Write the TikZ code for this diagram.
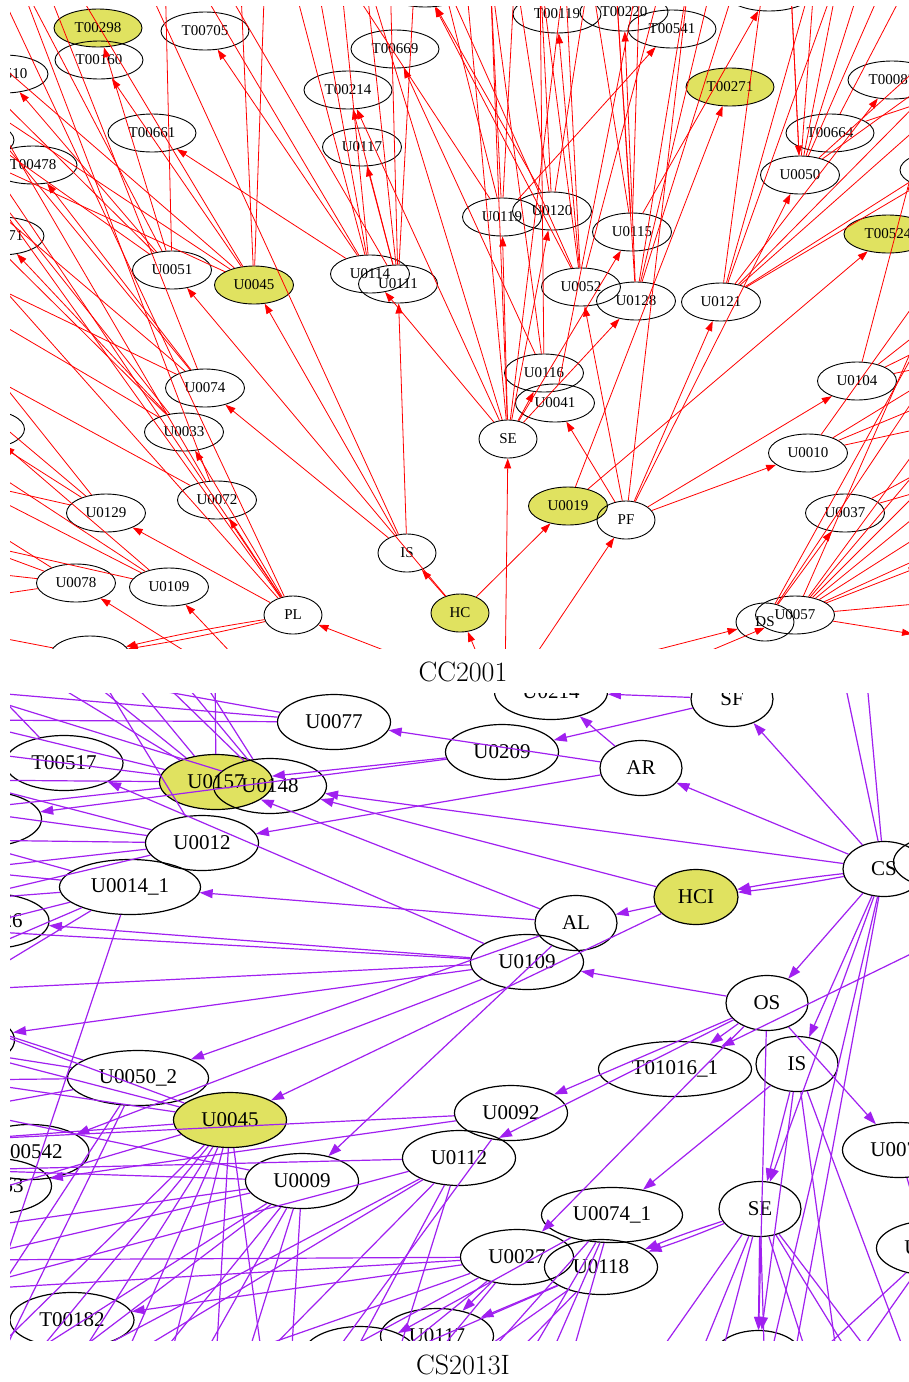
\documentclass[tikz,border=0pt]{standalone}
\usepackage{fontspec}
\newfontfamily\tms{Liberation Serif}
\usetikzlibrary{shapes.geometric,arrows.meta}
\definecolor{hly}{RGB}{224,226,96}
\definecolor{pur}{RGB}{160,32,240}
\begin{document}
\begin{tikzpicture}[x=1pt,y=-1pt,
  tn/.style={ellipse,draw=black,line width=0.9pt,inner sep=0pt,minimum height=38pt,font=\tms\fontsize{15}{16}\selectfont},
  tu/.style={tn,minimum width=79pt},
  tt/.style={tn,minimum width=88pt},
  ts/.style={tn,minimum width=58pt},
  hl/.style={fill=hly},
  re/.style={draw=red,line width=0.8pt,-{Triangle[length=10pt,width=7pt]}},
  bn/.style={ellipse,draw=black,line width=1.2pt,inner sep=0pt,minimum height=55pt,font=\tms\fontsize{21}{22}\selectfont},
  bu/.style={bn,minimum width=113pt},
  bt/.style={bn,minimum width=118pt},
  bw/.style={bn,minimum width=141pt},
  bs/.style={bn,minimum width=82pt},
  pe/.style={draw=pur,line width=1.2pt,-{Triangle[length=13pt,width=9pt]}},
  captxt/.style={font=\fontsize{28}{30}\selectfont}]
\useasboundingbox[fill=white] (0,0) rectangle (909,1382);
% ================= CC2001 =================
\begin{scope}
\clip (10,6) rectangle (909,648);
\node[tt,hl] (aT298) at (98,28) {T00298};
\node[tt] (aT160) at (99,60) {T00160};
\node[tt] (aT510) at (4,74) {T00510};
\node[tt] (aT705) at (205,31) {T00705};
\node[tt] (aT669) at (395,49) {T00669};
\node[tt] (aT214) at (348,90) {T00214};
\node[tt] (aT661) at (152,133) {T00661};
\node[tu] (aU117) at (362,147) {U0117};
\node[tt] (aT478) at (33,165) {T00478};
\node[tt] (aX1) at (-30,140) {};
\node[tt] (aT171) at (0,236) {T00171};
\node[tu] (aU051) at (172,270) {U0051};
\node[tu,hl] (aU045) at (254,285) {U0045};
\node[tu] (aU114) at (370,274) {U0114};
\node[tu] (aU111) at (398,284) {U0111};
\node[tt] (aTop2) at (425,-12) {};
\node[tt] (aT119) at (557,14) {T00119};
\node[tt] (aT220) at (624,12) {T00220};
\node[tt] (aT541) at (672,29) {T00541};
\node[tt] (aTop3) at (769,-8) {};
\node[tt,hl] (aT271) at (730,87) {T00271};
\node[tt] (aT087) at (892,80) {T00087};
\node[tt] (aT664) at (830,133) {T00664};
\node[tu] (aU050) at (800,175) {U0050};
\node[tt] (aR1) at (944,170) {};
\node[tt,hl] (aT524) at (888,234) {T00524};
\node[tu] (aU119) at (502,217) {U0119};
\node[tu] (aU120) at (552,211) {U0120};
\node[tu] (aU115) at (632,232) {U0115};
\node[tu] (aU052) at (581,287) {U0052};
\node[tu] (aU128) at (636,301) {U0128};
\node[tu] (aU121) at (721,302) {U0121};
\node[tu] (aU074) at (205,388) {U0074};
\node[tu] (aU033) at (184,432) {U0033};
\node[tu] (aL2) at (-15,429) {};
\node[tu] (aU072) at (217,500) {U0072};
\node[tu] (aU129) at (106,513) {U0129};
\node[tu] (aU078) at (76,583) {U0078};
\node[tu] (aU109) at (169,587) {U0109};
\node[ts] (aPL) at (293,615) {PL};
\node[ts] (aIS) at (407,553) {IS};
\node[tu] (aB1) at (90,655) {};
\node[tu] (aU116) at (544,373) {U0116};
\node[tu] (aU041) at (555,403) {U0041};
\node[ts] (aSE) at (508,439) {SE};
\node[tu,hl] (aU019) at (568,506) {U0019};
\node[ts] (aPF) at (626,520) {PF};
\node[ts,hl] (aHC) at (460,613) {HC};
\node[tu] (aU104) at (857,381) {U0104};
\node[tu] (aU010) at (808,453) {U0010};
\node[tu] (aU037) at (845,513) {U0037};
\node[ts] (aDS) at (765,622) {DS};
\node[tu] (aU057) at (795,615) {U0057};
\node[tu] (aR2) at (950,362) {};
\node[tu] (aR3) at (950,555) {};
\node[tu] (aR4) at (950,640) {};
% off-panel coordinates
\foreach \i in {0,...,44} {\coordinate (u\i) at ({25*\i-60},-30);}
\foreach \i in {0,...,22} {\coordinate (l\i) at (-40,{30*\i});}
\foreach \i in {0,...,22} {\coordinate (r\i) at (960,{30*\i});}
\coordinate (dA) at (487,690);
\coordinate (dB) at (266,690);
\coordinate (dC) at (247,690);
\coordinate (dD) at (492,690);
\coordinate (dE) at (505,690);
\coordinate (dF) at (512,690);
\coordinate (dG) at (500,690);
\coordinate (dH) at (617,690);
% node to node edges
\foreach \a/\b in {aHC/aIS,aHC/aU019,aHC/aU051,
  aIS/aU074,aIS/aU045,aIS/aU111,
  aSE/aU114,aSE/aT214,aSE/aU116,aSE/aU119,aSE/aU120,aSE/aU115,aSE/aU128,
  aPF/aU041,aPF/aU052,aPF/aU121,aPF/aU104,aPF/aU010,aPF/aU050,
  aU019/aT271,aU019/aT524,
  aPL/aU072,aPL/aU033,aPL/aU129,
  aU051/aT298,aU051/aT510,aU045/aT160,
  aU114/aT705,aU114/aT661,aU111/aU117,aU111/aT214,
  aU116/aT669,aU074/aT478,aU033/aT171,aU109/aL2,
  aU052/aT119,aU052/aTop2,aU128/aT220,aU119/aT541,aU120/aTop2,aU115/aTop3,
  aU121/aT087,aU121/aR1,aDS/aU037,aU057/aR3,aU057/aR4,
  dA/aPL,dB/aU109,dC/aU078,dD/aHC,dE/aSE,dF/aPF,dG/aDS,dH/aU057,u34/aU050}
  {\draw[re] (\a) -- (\b);}
\draw[re] (aPL) to[bend left=2] (aB1);
\draw[re] (aPL) to[bend right=2] (aB1);
% edges leaving the panel
\foreach \a/\b in {aU051/u3,aU051/u9,aU051/l4,aU051/l2,
  aU045/u12,aU045/u13,aU045/u5,aU045/l3,aU045/l5,aU045/l1,
  aU114/u14,aU114/u15,aU114/u16,aU114/u10,aU111/u17,aU111/u18,aU111/u19,aU111/u11,
  aSE/u21,aSE/u22,aSE/u25,aSE/u17,aU119/u20,aU119/u22,aU119/u23,aU119/u16,
  aU120/u23,aU120/u24,aU120/u26,aU115/u26,aU115/u27,aU115/u28,
  aU052/u24,aU052/u25,aU052/u29,aU052/u20,aU128/u27,aU128/u30,aU128/u31,aU128/u32,
  aU121/u33,aU121/u35,aU121/u36,aU121/r2,aU121/r3,aU121/r5,
  aU050/u34,aU050/u35,aU050/u36,aU050/u37,aU050/u38,aU050/r1,aU050/r2,
  aT664/r3,aT664/u39,aU116/u22,aU116/u24,aU041/u28,aPF/u30,
  aPL/l4,aPL/l5,aPL/u2,aPL/l8,aU074/l9,aU074/l6,aU074/u4,aU074/l3,
  aU033/l10,aU033/l7,aU033/l5,aU072/l12,aU072/l2,aU072/u3,aIS/u8,
  aU129/l14,aU129/l16,aU129/l13,aU129/l11,
  aU078/l17,aU078/l18,aU078/l19,aU078/l20,
  aU109/l15,aU109/l16,aU109/l18,aB1/l21,aB1/l22,
  aU104/r10,aU104/r11,aU104/r12,aU104/u41,
  aU010/r12,aU010/r13,aU010/r14,aU010/r8,aU037/r15,aU037/r16,
  aU057/r13,aU057/r14,aU057/r15,aU057/r16,aU057/r17,aU057/r18,aU057/r20,aU057/r8,
  aDS/r11,aDS/r9}
  {\draw[re] (\a) -- (\b);}
\end{scope}
\node[captxt] (capA) at (463,672) {CC2001};
% ================= CS2013I =================
\begin{scope}
\clip (10,693) rectangle (909,1340);
\node[bu] (bU214) at (551,692) {U0214};
\node[bs] (bSF) at (732,699) {SF};
\node[bu] (bU077) at (334,722) {U0077};
\node[bt] (bT517) at (64,763) {T00517};
\node[bu,hl] (bU157) at (216,782) {U0157};
\node[bu] (bU148) at (270,786) {U0148};
\node[bu] (bL1) at (-15,819) {};
\node[bu] (bU012) at (202,843) {U0012};
\node[bw] (bU014) at (130,887) {U0014\_1};
\node[bt] (bT126) at (-10,921) {T00126};
\node[bu] (bU209) at (502,752) {U0209};
\node[bs] (bAR) at (641,768) {AR};
\node[bs] (bCS) at (884,869) {CS};
\node[bu] (bR1) at (950,862) {};
\node[bs,hl,minimum width=84pt] (bHCI) at (696,897) {HCI};
\node[bs] (bAL) at (576,923) {AL};
\node[bu] (bU109) at (527,962) {U0109};
\node[bs] (bOS) at (767,1003) {OS};
\node[bu] (bL2) at (-42,1040) {};
\node[bw] (bU050) at (138,1078) {U0050\_2};
\node[bu,hl] (bU045) at (230,1120) {U0045};
\node[bt] (bT542) at (30,1152) {T00542};
\node[bu] (bX3) at (-5,1186) {U0053};
\node[bu] (bU009) at (302,1181) {U0009};
\node[bu] (bU112) at (459,1158) {U0112};
\node[bu] (bU092) at (511,1113) {U0092};
\node[bn,minimum width=153pt] (bT1016) at (675,1069) {T01016\_1};
\node[bs] (bIS) at (797,1064) {IS};
\node[bu] (bU007) at (899,1150) {U0071};
\node[bw] (bU074) at (612,1215) {U0074\_1};
\node[bs] (bSE) at (760,1209) {SE};
\node[bu] (bU027) at (517,1257) {U0027};
\node[bu] (bU118) at (601,1267) {U0118};
\node[bu] (bR2) at (933,1248) {U0101};
\node[bt,minimum width=124pt] (bT182) at (72,1320) {T00182};
\node[bu] (bU117) at (437,1336) {U0117};
\node[bu] (bB1) at (360,1354) {};
\node[bs,minimum width=90pt] (bB2) at (758,1358) {};
\foreach \i in {0,...,44} {\coordinate (v\i) at ({25*\i-60},660);}
\foreach \i in {0,...,22} {\coordinate (m\i) at (-40,{690+30*\i});}
\foreach \i in {0,...,22} {\coordinate (s\i) at (960,{690+30*\i});}
\foreach \i in {0,...,44} {\coordinate (w\i) at ({25*\i-60},1380);}
\foreach \a/\b in {bCS/bSF,bCS/bAR,bCS/bOS,bCS/bIS,bCS/bSE,bCS/bU148,
  bHCI/bAL,bHCI/bU148,bHCI/bU045,
  bAL/bU014,bAL/bU050,bAL/bU009,bAL/bU157,
  bAR/bU012,bAR/bU214,bAR/bU077,bSF/bU214,bSF/bU209,
  bU209/bU157,bU209/bL1,
  bU109/bT126,bU109/bT517,bU109/bL2,bU109/bT542,
  bOS/bU109,bOS/bT1016,bOS/bU092,bOS/bU112,bOS/bU007,bOS/bU027,bOS/bB2,
  bIS/bSE,bIS/bU074,bIS/bB2,bSE/bB2,
  bU092/bX3,bU027/bT182,bU027/bU117,bU118/bU117,bU074/bB1,s8/bT1016}
  {\draw[pe] (\a) -- (\b);}
\draw[pe] (bCS) to[bend left=2] (bHCI);
\draw[pe] (bCS) to[bend right=2] (bHCI);
\draw[pe] (bSE) to[bend left=2] (bU118);
\draw[pe] (bSE) to[bend right=2] (bU118);
\foreach \a/\b in {bCS/v36,bCS/v37,bCS/w33,bCS/w34,
  bU157/m1,bU157/m2,bU157/m3,bU157/m4,bU157/v3,bU157/v5,bU157/v7,bU157/v11,
  bU148/v8,bU148/v9,bU148/v10,bU148/m0,bU077/m0,bU077/m1,bU077/v2,
  bT517/m2,bT517/v1,
  bU012/m3,bU012/m4,bU012/m5,bU012/m6,bU012/m7,bU012/v6,
  bU014/m5,bU014/m6,bU014/m7,bU014/m8,bU014/m9,bU014/m10,bU014/w1,
  bU050/m11,bU050/m12,bU050/m13,bU050/m14,bU050/w2,bU050/w0,
  bU045/m11,bU045/m12,bU045/m13,bU045/m15,bU045/m17,bU045/w3,bU045/w5,bU045/w7,bU045/w9,bU045/w11,bU045/w13,bU045/w1,
  bU009/m14,bU009/m16,bU009/m18,bU009/m19,bU009/w4,bU009/w8,bU009/w10,bU009/w12,bU009/w14,bU009/w2,
  bU112/m16,bU112/m20,bU112/w6,bU112/w12,bU112/w16,bU112/w18,bU112/w4,
  bU092/m15,bU092/w15,
  bU027/m19,bU027/m20,bU027/w9,bU027/w14,bU027/w17,bU027/w19,
  bU118/w16,bU118/w20,bU118/w22,
  bU074/w21,bU074/w23,bU074/w24,bU074/w25,
  bSE/w28,bSE/w30,bSE/w31,bSE/w33,bSE/w35,bSE/w37,bSE/w38,
  bIS/w39,bIS/w36,bU007/s10,bU007/s12,bU007/w41,bR2/w34,bR2/w36,
  bU109/m8,bU109/m10}
  {\draw[pe] (\a) -- (\b);}
\end{scope}
\node[captxt] (capB) at (463,1365) {CS2013I};
\end{tikzpicture}
\end{document}
